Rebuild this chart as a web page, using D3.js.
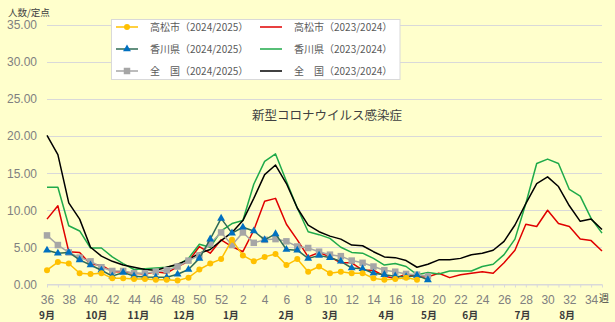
<!DOCTYPE html>
<html><head><meta charset="utf-8">
<script src="https://cdn.jsdelivr.net/npm/d3@7"></script>
<style>
html,body{margin:0;padding:0;background:#FFFFCC;}
svg{display:block;font-family:"Noto Sans CJK JP","Noto Sans",sans-serif;}
</style>
</head><body>
<svg id="chart" width="615" height="322"></svg>
<script>
// ---- data ----
const weeks = [36,37,38,39,40,41,42,43,44,45,46,47,48,49,50,51,52,
  1,2,3,4,5,6,7,8,9,10,11,12,13,14,15,16,17,18,19,20,21,22,23,24,25,26,27,28,29,30,31,32,33,34,35];
const weekTickLabels = [36,38,40,42,44,46,48,50,52,2,4,6,8,10,12,14,16,18,20,22,24,26,28,30,32,34];
const yTicks = [0,5,10,15,20,25,30,35];
const months = ["9月","10月","11月","12月","1月","2月","3月","4月","5月","6月","7月","8月"];
const monthAt = [0,4.55,8.4,12.6,16.9,22.0,26.0,31.2,35.1,38.9,43.7,47.8]; // position in week-slots

const takamatsu2425 = [1.9,3.0,2.8,1.5,1.4,1.5,0.8,0.8,0.7,0.7,0.6,0.6,0.5,0.9,2.0,2.8,3.4,6.0,3.9,3.1,3.7,4.1,2.6,3.4,1.7,2.4,1.5,1.7,1.5,1.5,0.8,0.6,0.7,0.9,0.6];
const kagawa2425 = [4.6,4.2,4.3,3.3,2.6,1.9,1.1,1.6,1.1,1.0,0.95,0.95,1.35,2.0,3.5,6.1,8.9,6.9,7.7,7.2,6.0,6.8,4.7,4.6,3.5,3.9,3.6,3.1,2.2,2.1,1.5,1.3,1.1,1.0,1.2,0.6];
const national2425 = [6.6,5.3,4.3,3.6,3.1,2.3,1.8,1.8,1.5,1.5,1.7,1.9,2.4,3.2,3.9,5.5,7.0,5.3,7.0,5.6,6.0,6.1,5.8,5.1,4.9,4.4,4.0,3.8,3.2,2.9,2.4,1.9,1.7,1.4,1.3,1.1];
const takamatsu2324 = [8.8,10.6,4.4,4.3,2.7,2.6,1.7,1.7,1.5,1.4,1.7,1.5,2.4,3.1,5.1,4.2,6.0,5.1,4.4,7.3,11.2,11.6,8.1,6.0,3.7,4.3,3.7,2.9,2.9,1.9,1.9,1.1,0.8,1.4,1.0,1.0,1.5,0.9,1.3,1.5,1.7,1.5,2.9,4.6,8.1,7.8,10.0,8.2,7.8,6.1,5.9,4.5];
const kagawa2324 = [13.1,13.1,7.9,7.2,4.9,4.9,3.7,2.8,2.0,2.1,2.2,2.3,2.6,3.5,5.4,5.0,7.2,8.2,8.6,13.5,16.6,17.6,13.9,10.3,7.1,6.7,6.2,5.0,4.3,4.2,3.5,2.6,2.8,2.4,1.3,1.6,1.4,1.8,1.8,1.8,2.4,2.7,4.0,6.1,10.9,16.3,16.9,16.3,12.8,11.9,8.9,6.9];
const national2324 = [20.1,17.5,11.0,8.8,5.0,3.8,3.1,2.6,2.3,2.0,1.9,2.3,2.7,3.3,4.2,4.7,5.9,7.0,8.6,11.6,14.8,16.1,13.6,10.3,8.0,7.1,6.5,6.1,5.3,5.2,4.4,3.7,3.6,3.2,2.3,2.7,3.3,3.3,3.5,4.0,4.2,4.6,5.8,8.0,10.9,13.6,14.5,13.2,10.6,8.5,8.8,7.4];

const series = [
  {name:"高松市（2023/2024）", values:takamatsu2324, color:"#E00000", marker:null, col:1, row:0},
  {name:"香川県（2023/2024）", values:kagawa2324, color:"#1FAA4A", marker:null, col:1, row:1},
  {name:"全　国（2023/2024）", values:national2324, color:"#000000", marker:null, col:1, row:2},
  {name:"全　国（2024/2025）", values:national2425, color:"#A6A6A6", mcolor:"#A6A6A6", marker:"square", col:0, row:2},
  {name:"香川県（2024/2025）", values:kagawa2425, color:"#2F6B55", mcolor:"#0070C0", marker:"triangle", col:0, row:1},
  {name:"高松市（2024/2025）", values:takamatsu2425, color:"#FFC000", mcolor:"#FFC000", marker:"circle", col:0, row:0}
];

// ---- layout ----
const svg = d3.select("#chart");
const x = d3.scalePoint().domain(weeks).range([47, 602]);
const xi = d3.scaleLinear().domain([0, weeks.length-1]).range([47, 602]);
const y = d3.scaleLinear().domain([0, 35]).range([284.3, 25]);

// gridlines
svg.append("g").selectAll("line").data(yTicks).join("line")
  .attr("x1", 47).attr("x2", 602)
  .attr("y1", d=>Math.round(y(d))+0.5).attr("y2", d=>Math.round(y(d))+0.5)
  .attr("stroke", "#D9D9D9").attr("stroke-width", 1);

// y axis labels
const yAxis = svg.append("g").attr("transform","translate(47,0)")
  .call(d3.axisLeft(y).tickValues(yTicks).tickFormat(d3.format(".2f")).tickSize(0).tickPadding(10));
yAxis.select(".domain").remove();
yAxis.selectAll("text").attr("font-size", 12).attr("fill", "#808080").attr("font-family", null);

// x axis
const xAxis = svg.append("g").attr("transform", `translate(0,${Math.round(y(0))+0.5})`)
  .call(d3.axisBottom(x).tickSizeInner(3).tickSizeOuter(0).tickPadding(8)
    .tickFormat(d => weekTickLabels.includes(d) ? d : ""));
xAxis.select(".domain").attr("stroke", "#D9D9D9");
xAxis.selectAll(".tick line").attr("stroke", "#D9D9D9");
xAxis.selectAll("text").attr("font-size", 12).attr("fill", "#808080").attr("font-family", null);
xAxis.selectAll(".tick").filter(d => d===35).select("text").text("");

// 週 unit
svg.append("text").attr("x", 599).attr("y", 302).text("週")
  .attr("font-size", 10).attr("fill", "#404040");

// month labels
svg.append("g").selectAll("text").data(months).join("text")
  .attr("x", (d,i)=>xi(monthAt[i])).attr("y", 319)
  .attr("text-anchor","middle").attr("font-size", 10).attr("font-weight","bold")
  .attr("fill","#3a3a3a").text(d=>d);

// axis title
svg.append("text").attr("x", 8).attr("y", 16).text("人数/定点")
  .attr("font-size", 9.5).attr("fill", "#404040");

// chart title
svg.append("text").attr("x", 327).attr("y", 120).attr("text-anchor","middle")
  .text("新型コロナウイルス感染症").attr("font-size", 12.5).attr("fill", "#404040");

// lines
const line = d3.line().x((d,i)=>x(weeks[i])).y(d=>y(d));
function drawMarker(g, type, color, cx, cy) {
  if (type === "circle") {
    g.append("circle").attr("cx", cx).attr("cy", cy).attr("r", 3).attr("fill", color);
  } else if (type === "triangle") {
    g.append("path").attr("d", d3.symbol(d3.symbolTriangle, 27)()).attr("transform", `translate(${cx},${cy})`).attr("fill", color);
  } else if (type === "square") {
    g.append("rect").attr("x", cx-3.25).attr("y", cy-3.25).attr("width", 6.5).attr("height", 6.5).attr("fill", color);
  }
}
series.forEach(s => {
  const g = svg.append("g");
  g.append("path").datum(s.values).attr("d", line).attr("fill","none")
    .attr("stroke", s.color).attr("stroke-width", 1.5).attr("stroke-linejoin","round");
  if (s.marker) {
    s.values.forEach((v,i) => drawMarker(g, s.marker, s.mcolor, x(weeks[i]), y(v)));
  }
});

// legend
const lg = svg.append("g");
lg.append("rect").attr("x", 111.5).attr("y", 19.5).attr("width", 288.5).attr("height", 60)
  .attr("fill", "#FFFFFF").attr("stroke", "#D9D9D9");
const rowY = [27, 49, 71];
const colX = [116, 260];
series.forEach(s => {
  const ly = rowY[s.row], lx = colX[s.col];
  const g = lg.append("g");
  g.append("line").attr("x1", lx).attr("x2", lx+22).attr("y1", ly).attr("y2", ly)
    .attr("stroke", s.color).attr("stroke-width", 1.5);
  if (s.marker) drawMarker(g, s.marker, s.mcolor, lx+11, ly);
  g.append("text").attr("x", lx + 34).attr("y", ly).attr("dy","0.35em")
    .attr("font-size", 10).attr("fill", "#595959").text(s.name);
});
</script>
</body></html>
